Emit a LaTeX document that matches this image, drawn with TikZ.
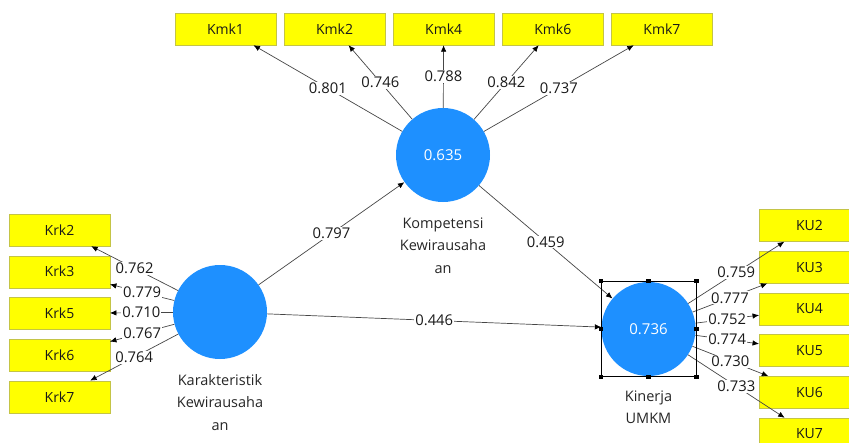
\documentclass[tikz,border=0pt]{standalone}
\usepackage{fontspec}
\setmainfont{Open Sans}
\usepackage{xcolor}
\usepackage{tikz}
\usetikzlibrary{arrows.meta,positioning}

\definecolor{lvblue}{RGB}{30,144,255}
\definecolor{indyellow}{RGB}{255,255,0}
\definecolor{indedge}{RGB}{196,196,70}
\definecolor{pathgray}{RGB}{70,70,70}

\begin{document}
\begin{tikzpicture}[x=1pt, y=-1pt,
    node distance=9.3pt and 8.2pt,
    latent/.style={circle, fill=lvblue, minimum size=94pt, inner sep=0pt, text=white,
                   font=\fontsize{15}{18}\selectfont},
    ind/.style={draw=indedge, fill=indyellow, minimum width=100.5pt, minimum height=32pt,
                inner sep=0pt, text=black!90, font=\fontsize{14}{17}\selectfont},
    cname/.style={align=center, inner sep=0pt, text=black!85,
                  font=\fontsize{14.5}{22.5}\selectfont},
    coef/.style={fill=white, inner sep=1pt, text=black!90, font=\fontsize{14.8}{17}\selectfont},
    arr/.style={-{Latex[length=6.5pt,width=5.5pt,color=black]}, draw=pathgray, line width=0.7pt}]
  \useasboundingbox (0,0) rectangle (849,442);
  \clip (0,0) rectangle (849,442);
  % constructs
  \node[latent] (komp) at (443,155) {0.635};
  \node[latent] (kar) at (220,312) {};
  \node[latent] (kin) at (648.5,329) {0.736};
  \node[cname, below=15pt of komp] (kompname) {Kompetensi\\Kewirausaha\\an};
  \node[cname, below=15pt of kar] (karname) {Karakteristik\\Kewirausaha\\an};
  \node[cname, below=14pt of kin] (kinname) {Kinerja\\UMKM};
  % indicators
  \node[ind] (kmk1) at (225.5,29) {Kmk1};
  \node[ind, right=of kmk1] (kmk2) {Kmk2};
  \node[ind, right=of kmk2] (kmk4) {Kmk4};
  \node[ind, right=of kmk4] (kmk6) {Kmk6};
  \node[ind, right=of kmk6] (kmk7) {Kmk7};
  \node[ind] (krk2) at (59.5,230) {Krk2};
  \node[ind, below=of krk2] (krk3) {Krk3};
  \node[ind, below=of krk3] (krk5) {Krk5};
  \node[ind, below=of krk5] (krk6) {Krk6};
  \node[ind, below=of krk6] (krk7) {Krk7};
  \node[ind] (ku2) at (809.5,225.5) {KU2};
  \node[ind, below=of ku2] (ku3) {KU3};
  \node[ind, below=of ku3] (ku4) {KU4};
  \node[ind, below=of ku4] (ku5) {KU5};
  \node[ind, below=of ku5] (ku6) {KU6};
  \node[ind, below=of ku6] (ku7) {KU7};
  % loadings
  \draw[arr] (komp) -- node[coef] {0.801} (kmk1);
  \draw[arr] (komp) -- node[coef] {0.746} (kmk2);
  \draw[arr] (komp) -- node[coef] {0.788} (kmk4);
  \draw[arr] (komp) -- node[coef] {0.842} (kmk6);
  \draw[arr] (komp) -- node[coef] {0.737} (kmk7);
  \draw[arr] (kar) -- node[coef] {0.762} (krk2);
  \draw[arr] (kar) -- node[coef] {0.779} (krk3);
  \draw[arr] (kar) -- node[coef] {0.710} (krk5);
  \draw[arr] (kar) -- node[coef] {0.767} (krk6);
  \draw[arr] (kar) -- node[coef] {0.764} (krk7);
  \draw[arr] (kin) -- node[coef] {0.759} (ku2);
  \draw[arr] (kin) -- node[coef] {0.777} (ku3);
  \draw[arr] (kin) -- node[coef] {0.752} (ku4);
  \draw[arr] (kin) -- node[coef] {0.774} (ku5);
  \draw[arr] (kin) -- node[coef] {0.730} (ku6);
  \draw[arr] (kin) -- node[coef] {0.733} (ku7);
  % paths
  \draw[arr] (kar) -- node[coef] {0.797} (komp);
  \draw[arr] (kar) -- node[coef] {0.446} (kin);
  \draw[arr] (komp) -- node[coef] {0.459} (kin);
  % selection frame
  \node[draw, minimum size=95pt, inner sep=0pt, line width=0.6pt] (sel) at (kin) {};
  \foreach \a in {north west,north,north east,east,south east,south,south west,west}
    \fill (sel.\a) +(-2.2,-2.2) rectangle +(2.2,2.2);
\end{tikzpicture}
\end{document}
